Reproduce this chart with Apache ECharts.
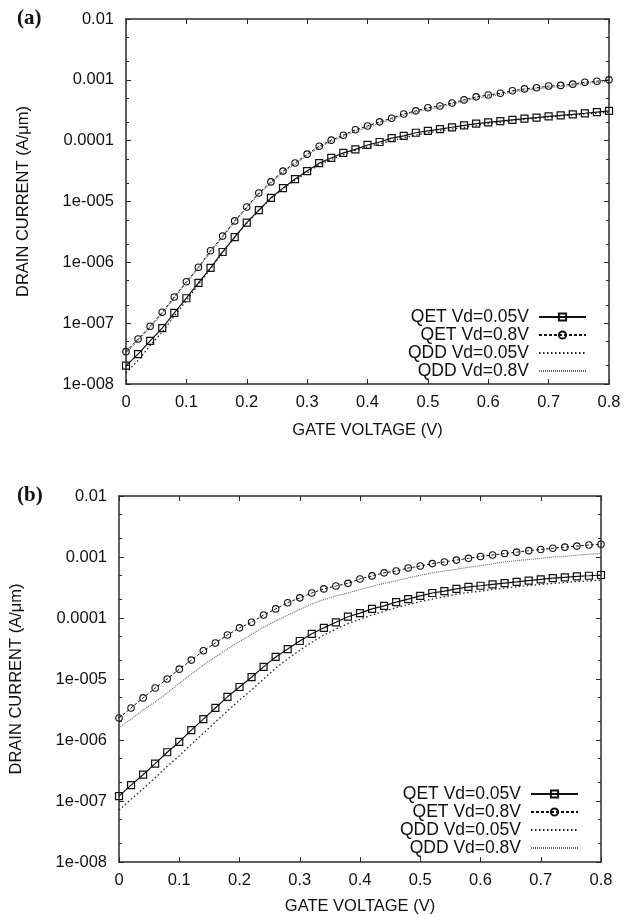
<!DOCTYPE html>
<html>
<head>
<meta charset="utf-8">
<script src="https://cdn.jsdelivr.net/npm/echarts@6/dist/echarts.min.js"></script>
<style>
html, body { margin: 0; padding: 0; background: #fff; }
#main { width: 624px; height: 916px; }
</style>
</head>
<body>
<div id="main"></div>
<script>
// gate voltage (V)
var gateV = [0, 0.02, 0.04, 0.06, 0.08, 0.1, 0.12, 0.14, 0.16, 0.18, 0.2, 0.22, 0.24, 0.26, 0.28, 0.3,
    0.32, 0.34, 0.36, 0.38, 0.4, 0.42, 0.44, 0.46, 0.48, 0.5, 0.52, 0.54, 0.56, 0.58, 0.6,
    0.62, 0.64, 0.66, 0.68, 0.7, 0.72, 0.74, 0.76, 0.78, 0.8];

// panel (a) drain current (A/um)
var aQet005 = [2.0e-8, 3.1e-8, 5.1e-8, 8.3e-8, 1.48e-7, 2.57e-7, 4.6e-7, 8.1e-7, 1.48e-6, 2.6e-6, 4.5e-6,
    7.2e-6, 1.15e-5, 1.66e-5, 2.34e-5, 3.16e-5, 4.27e-5, 5.2e-5, 6.3e-5, 7.2e-5, 8.5e-5,
    9.5e-5, 1.10e-4, 1.20e-4, 1.35e-4, 1.45e-4, 1.55e-4, 1.66e-4, 1.78e-4, 1.90e-4, 2.0e-4,
    2.1e-4, 2.2e-4, 2.3e-4, 2.4e-4, 2.5e-4, 2.6e-4, 2.7e-4, 2.82e-4, 2.95e-4, 3.08e-4];
var aQet08 = [3.4e-8, 5.5e-8, 8.9e-8, 1.51e-7, 2.7e-7, 4.8e-7, 8.3e-7, 1.55e-6, 2.7e-6, 4.8e-6, 8.1e-6,
    1.38e-5, 2.1e-5, 3.16e-5, 4.3e-5, 6.0e-5, 8.1e-5, 1.02e-4, 1.23e-4, 1.51e-4, 1.74e-4,
    2.04e-4, 2.34e-4, 2.75e-4, 3.09e-4, 3.47e-4, 3.72e-4, 4.17e-4, 4.68e-4, 5.25e-4, 5.62e-4,
    6.03e-4, 6.6e-4, 7.1e-4, 7.4e-4, 7.9e-4, 8.1e-4, 8.5e-4, 9.1e-4, 9.5e-4, 1.0e-3];
var aQdd005 = [1.51e-8, 2.45e-8, 4.3e-8, 7.1e-8, 1.32e-7, 2.34e-7, 4.3e-7, 7.8e-7, 1.45e-6, 2.57e-6, 4.4e-6,
    7.1e-6, 1.12e-5, 1.62e-5, 2.24e-5, 3.0e-5, 4.0e-5, 4.9e-5, 5.9e-5, 6.9e-5, 7.9e-5,
    8.9e-5, 1.0e-4, 1.12e-4, 1.23e-4, 1.35e-4, 1.45e-4, 1.55e-4, 1.66e-4, 1.78e-4, 1.9e-4,
    2.0e-4, 2.14e-4, 2.24e-4, 2.34e-4, 2.45e-4, 2.57e-4, 2.63e-4, 2.75e-4, 2.82e-4, 2.95e-4];
var aQdd08 = [3.2e-8, 5.2e-8, 8.5e-8, 1.45e-7, 2.6e-7, 4.6e-7, 8.0e-7, 1.48e-6, 2.6e-6, 4.6e-6, 7.8e-6,
    1.32e-5, 2.0e-5, 3.0e-5, 4.1e-5, 5.7e-5, 7.7e-5, 9.7e-5, 1.17e-4, 1.43e-4, 1.66e-4,
    1.94e-4, 2.23e-4, 2.62e-4, 2.95e-4, 3.3e-4, 3.55e-4, 4.0e-4, 4.45e-4, 5.0e-4, 5.35e-4,
    5.75e-4, 6.3e-4, 6.75e-4, 7.05e-4, 7.5e-4, 7.75e-4, 8.1e-4, 8.65e-4, 9.05e-4, 9.5e-4];

// panel (b) drain current (A/um)
var bQet005 = [1.2e-7, 1.82e-7, 2.7e-7, 4.1e-7, 6.3e-7, 9.3e-7, 1.45e-6, 2.2e-6, 3.35e-6, 5.1e-6, 7.4e-6,
    1.07e-5, 1.58e-5, 2.3e-5, 3.1e-5, 4.2e-5, 5.5e-5, 6.9e-5, 8.5e-5, 1.05e-4, 1.2e-4,
    1.41e-4, 1.58e-4, 1.82e-4, 2.04e-4, 2.3e-4, 2.57e-4, 2.75e-4, 3.0e-4, 3.24e-4, 3.38e-4,
    3.55e-4, 3.72e-4, 3.9e-4, 4.1e-4, 4.3e-4, 4.5e-4, 4.65e-4, 4.8e-4, 4.93e-4, 5.07e-4];
var bQet08 = [2.3e-6, 3.35e-6, 4.9e-6, 7.1e-6, 1.0e-5, 1.45e-5, 2.04e-5, 2.9e-5, 3.9e-5, 5.25e-5, 6.9e-5,
    8.5e-5, 1.12e-4, 1.41e-4, 1.78e-4, 2.14e-4, 2.57e-4, 3.0e-4, 3.35e-4, 3.7e-4, 4.37e-4,
    4.9e-4, 5.5e-4, 5.9e-4, 6.6e-4, 7.1e-4, 7.8e-4, 8.3e-4, 8.9e-4, 9.5e-4, 1.02e-3,
    1.08e-3, 1.14e-3, 1.2e-3, 1.27e-3, 1.33e-3, 1.39e-3, 1.45e-3, 1.51e-3, 1.57e-3, 1.62e-3];
var bQdd005 = [7.1e-8, 1.07e-7, 1.58e-7, 2.4e-7, 3.7e-7, 5.5e-7, 8.5e-7, 1.29e-6, 1.97e-6, 3.0e-6, 4.5e-6,
    6.6e-6, 1.0e-5, 1.51e-5, 2.14e-5, 2.95e-5, 4.0e-5, 5.25e-5, 6.6e-5, 8.1e-5, 9.5e-5,
    1.12e-4, 1.29e-4, 1.48e-4, 1.66e-4, 1.86e-4, 2.04e-4, 2.24e-4, 2.45e-4, 2.63e-4, 2.75e-4,
    2.95e-4, 3.09e-4, 3.24e-4, 3.4e-4, 3.55e-4, 3.7e-4, 3.8e-4, 3.98e-4, 4.07e-4, 4.17e-4];
var bQdd08 = [1.58e-6, 2.2e-6, 3.1e-6, 4.2e-6, 5.9e-6, 8.5e-6, 1.2e-5, 1.7e-5, 2.3e-5, 3.1e-5, 4.1e-5,
    5.4e-5, 7.1e-5, 8.9e-5, 1.12e-4, 1.38e-4, 1.7e-4, 2.0e-4, 2.3e-4, 2.57e-4, 2.95e-4,
    3.3e-4, 3.7e-4, 4.07e-4, 4.57e-4, 5.0e-4, 5.5e-4, 5.9e-4, 6.3e-4, 6.8e-4, 7.2e-4,
    7.7e-4, 8.3e-4, 8.7e-4, 9.1e-4, 9.5e-4, 1.0e-3, 1.02e-3, 1.07e-3, 1.11e-3, 1.15e-3];

var seriesNames = ['QET Vd=0.05V', 'QET Vd=0.8V', 'QDD Vd=0.05V', 'QDD Vd=0.8V'];
var yTickValues = [1e-8, 1e-7, 1e-6, 1e-5, 1e-4, 1e-3, 1e-2];
var yTickLabels = ['1e-008', '1e-007', '1e-006', '1e-005', '0.0001', '0.001', '0.01'];
var yMinorTicks = [2e-8, 5e-8, 2e-7, 5e-7, 2e-6, 5e-6, 2e-5, 5e-5, 2e-4, 5e-4, 2e-3, 5e-3];

var FONT = '"Liberation Sans", Arial, sans-serif';
var axisColor = '#2b2b2b';

function pairs(ys) {
    return gateV.map(function (x, i) { return [x, ys[i]]; });
}

function yLabel(v) {
    for (var i = 0; i < yTickValues.length; i++) {
        if (Math.abs(Math.log10(yTickValues[i]) - Math.log10(v)) < 1e-6) return yTickLabels[i];
    }
    return '';
}

function xAxes(g, gap) {
    return [{
        gridIndex: g, type: 'value', min: 0, max: 0.8, interval: 0.1, position: 'bottom',
        name: 'GATE VOLTAGE (V)', nameLocation: 'middle', nameGap: gap,
        nameTextStyle: { fontFamily: FONT, fontSize: 16.5, color: '#111' },
        axisLine: { show: true, lineStyle: { color: axisColor, width: 1.5 } },
        axisTick: { inside: true, length: 5, lineStyle: { color: axisColor } },
        axisLabel: { fontFamily: FONT, fontSize: 16.5, color: '#111', margin: 10 },
        splitLine: { show: false }
    }, {
        gridIndex: g, type: 'value', min: 0, max: 0.8, interval: 0.1, position: 'top',
        axisLine: { show: true, lineStyle: { color: axisColor, width: 1.5 } },
        axisTick: { inside: true, length: 5, lineStyle: { color: axisColor } },
        axisLabel: { show: false },
        splitLine: { show: false }
    }];
}

function yAxes(g) {
    var base = { gridIndex: g, type: 'log', logBase: 10, min: 1e-8, max: 1e-2, splitLine: { show: false } };
    return [
        Object.assign({}, base, {
            position: 'left',
            name: 'DRAIN CURRENT (A/\u03bcm)', nameLocation: 'middle', nameGap: 94, nameRotate: 90,
            nameTextStyle: { fontFamily: FONT, fontSize: 16.5, color: '#111' },
            axisLine: { show: true, lineStyle: { color: axisColor, width: 1.5 } },
            axisTick: { inside: true, length: 5, customValues: yTickValues, lineStyle: { color: axisColor } },
            axisLabel: { fontFamily: FONT, fontSize: 16.5, color: '#111', margin: 12,
                customValues: yTickValues, formatter: yLabel }
        }),
        Object.assign({}, base, {
            position: 'left',
            axisLine: { show: false },
            axisTick: { inside: true, length: 3, customValues: yMinorTicks, lineStyle: { color: axisColor } },
            axisLabel: { show: false }
        }),
        Object.assign({}, base, {
            position: 'right',
            axisLine: { show: true, lineStyle: { color: axisColor, width: 1.5 } },
            axisTick: { inside: true, length: 5, customValues: yTickValues, lineStyle: { color: axisColor } },
            axisLabel: { show: false }
        }),
        Object.assign({}, base, {
            position: 'right',
            axisLine: { show: false },
            axisTick: { inside: true, length: 3, customValues: yMinorTicks, lineStyle: { color: axisColor } },
            axisLabel: { show: false }
        })
    ];
}

function panelSeries(xi, yi, qet005, qet08, qdd005, qdd08) {
    return [{
        name: seriesNames[0], type: 'line', xAxisIndex: xi, yAxisIndex: yi, data: pairs(qet005),
        symbol: 'rect', symbolSize: 7,
        itemStyle: { color: 'rgba(255,255,255,0)', borderColor: '#111', borderWidth: 1.2 },
        lineStyle: { color: '#111', width: 1.2, type: 'solid' }
    }, {
        name: seriesNames[1], type: 'line', xAxisIndex: xi, yAxisIndex: yi, data: pairs(qet08),
        symbol: 'circle', symbolSize: 6.5,
        itemStyle: { color: 'rgba(255,255,255,0)', borderColor: '#111', borderWidth: 1.1 },
        lineStyle: { color: '#111', width: 1, type: [3, 2] }
    }, {
        name: seriesNames[2], type: 'line', xAxisIndex: xi, yAxisIndex: yi, data: pairs(qdd005),
        symbol: 'none', itemStyle: { color: '#222' },
        lineStyle: { color: '#222', width: 1.3, type: [1.5, 2.5] }
    }, {
        name: seriesNames[3], type: 'line', xAxisIndex: xi, yAxisIndex: yi, data: pairs(qdd08),
        symbol: 'none', itemStyle: { color: '#666' },
        lineStyle: { color: '#666', width: 1.1, type: [1, 1] }
    }];
}

function legendAt(right, top) {
    return {
        orient: 'vertical', right: right, top: top, align: 'right',
        itemWidth: 47, itemHeight: 9, itemGap: 0, padding: 0,
        selectedMode: false,
        data: [
            { name: seriesNames[0] },
            { name: seriesNames[1] },
            { name: seriesNames[2], itemStyle: { opacity: 0 } },
            { name: seriesNames[3], itemStyle: { opacity: 0 } }
        ],
        formatter: function (name) { return '{t|' + name + '}'; },
        textStyle: {
            color: '#111',
            rich: { t: { width: 126, align: 'right', fontFamily: FONT, fontSize: 17.5, lineHeight: 18, padding: [0, 5, 0, 0], color: '#111' } }
        }
    };
}

var chart = echarts.init(document.getElementById('main'), null, { renderer: 'canvas' });
chart.setOption({
    animation: false,
    backgroundColor: '#fff',
    grid: [
        { left: 126, top: 19, right: 15, bottom: 532 },
        { left: 117, top: 496, right: 23, bottom: 54 }
    ],
    graphic: [
        { type: 'text', left: 17, top: 8, style: { text: '(a)', font: 'bold 21px "Liberation Serif", serif', fill: '#111' } },
        { type: 'text', left: 17, top: 485, style: { text: '(b)', font: 'bold 21px "Liberation Serif", serif', fill: '#111' } }
    ],
    legend: [legendAt(37, 308), legendAt(45, 785)],
    xAxis: xAxes(0, 38).concat(xAxes(1, 36)),
    yAxis: yAxes(0).concat(yAxes(1)),
    series: panelSeries(0, 0, aQet005, aQet08, aQdd005, aQdd08)
        .concat(panelSeries(2, 4, bQet005, bQet08, bQdd005, bQdd08))
});
</script>
</body>
</html>
